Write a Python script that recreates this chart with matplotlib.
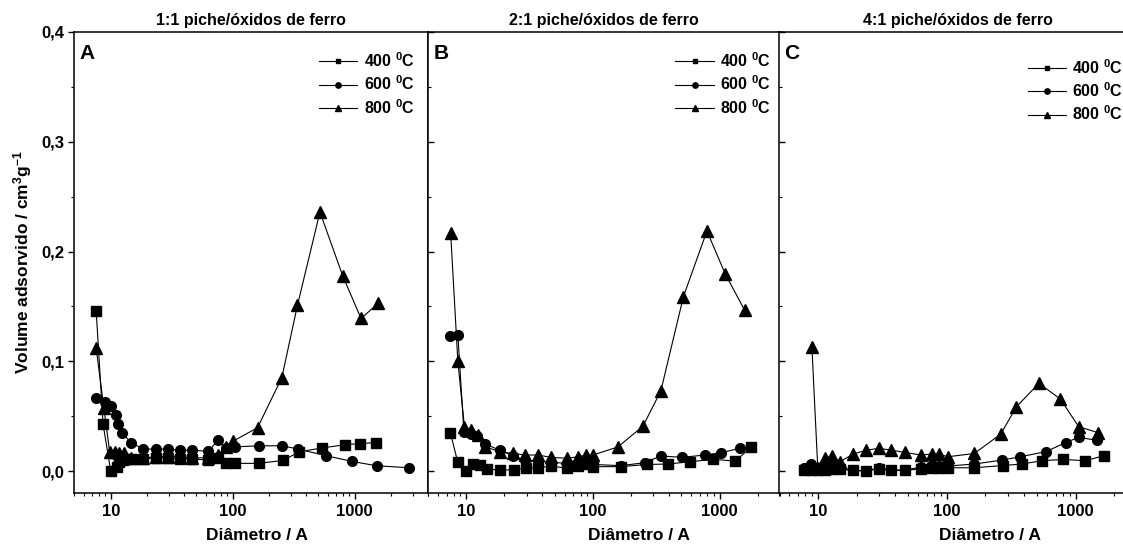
import matplotlib
matplotlib.use("Agg")
import matplotlib.pyplot as plt
from matplotlib.ticker import FuncFormatter, MultipleLocator, LogLocator, NullFormatter

plt.rcParams['font.family'] = ['Liberation Sans', 'DejaVu Sans']
plt.rcParams['font.weight'] = 'bold'
plt.rcParams['mathtext.fontset'] = 'custom'
plt.rcParams['mathtext.rm'] = 'Liberation Sans:bold'
plt.rcParams['mathtext.bf'] = 'Liberation Sans:bold'
plt.rcParams['mathtext.it'] = 'Liberation Sans:bold'
plt.rcParams['mathtext.default'] = 'bf'

# ---------------- data ----------------
titles = ["1:1 piche/óxidos de ferro", "2:1 piche/óxidos de ferro", "4:1 piche/óxidos de ferro"]
panel_letters = ["A", "B", "C"]
series_labels = ["400 $^0$C", "600 $^0$C", "800 $^0$C"]

A_400_x = [7.6, 8.65, 10, 11.3, 11.7, 12.5, 13.5, 15, 18.4, 23.4, 29.5, 37, 46.6, 63, 76, 88, 104, 163, 261, 351, 540, 840, 1107, 1500]
A_400_y = [0.146, 0.043, 0.0, 0.004, 0.008, 0.010, 0.011, 0.011, 0.011, 0.012, 0.012, 0.011, 0.011, 0.010, 0.012, 0.007, 0.007, 0.007, 0.0097, 0.0176, 0.021, 0.024, 0.025, 0.026]
A_600_x = [7.6, 8.97, 10.1, 11.0, 11.5, 12.4, 14.6, 18.4, 23.4, 29.5, 37.0, 46.6, 63, 76, 88, 104, 163, 256, 345, 582, 953, 1515, 2810]
A_600_y = [0.067, 0.063, 0.059, 0.051, 0.0425, 0.035, 0.026, 0.020, 0.020, 0.020, 0.019, 0.019, 0.018, 0.028, 0.021, 0.022, 0.023, 0.023, 0.020, 0.014, 0.0088, 0.0048, 0.003]
A_800_x = [7.6, 8.8, 9.8, 10.8, 11.8, 12.8, 14.6, 18.4, 23.4, 29.5, 37, 46.6, 63, 76, 88, 100, 160, 253, 340, 520, 798, 1130, 1567]
A_800_y = [0.112, 0.057, 0.0176, 0.017, 0.016, 0.016, 0.012, 0.012, 0.013, 0.013, 0.013, 0.012, 0.012, 0.015, 0.022, 0.027, 0.0395, 0.085, 0.151, 0.236, 0.178, 0.139, 0.153]

B_400_x = [7.5, 8.6, 10, 11.3, 12.8, 14.6, 18.6, 23.7, 29.8, 37, 47, 62.9, 76, 89, 101, 166, 268, 391, 588, 889, 1330, 1780]
B_400_y = [0.035, 0.0079, 0.0, 0.006, 0.0055, 0.0015, 0.001, 0.001, 0.003, 0.003, 0.0046, 0.0024, 0.0046, 0.006, 0.004, 0.004, 0.006, 0.0064, 0.0085, 0.0107, 0.0091, 0.0216]
B_600_x = [7.5, 8.6, 9.6, 11, 12.2, 14.2, 18.4, 23.4, 29.3, 37, 46.5, 62.9, 76, 89, 100, 166, 256, 344, 508, 764, 1030, 1440]
B_600_y = [0.123, 0.124, 0.036, 0.034, 0.032, 0.0246, 0.019, 0.014, 0.010, 0.009, 0.008, 0.007, 0.007, 0.007, 0.006, 0.0049, 0.0076, 0.0137, 0.0125, 0.0146, 0.0167, 0.0207]
B_800_x = [7.55, 8.6, 9.7, 10.95, 12.4, 14.2, 18.4, 23.4, 29.3, 37, 46.5, 62.9, 76, 89, 100, 158, 249, 344, 519, 795, 1110, 1575]
B_800_y = [0.2166, 0.100, 0.040, 0.037, 0.033, 0.022, 0.0176, 0.016, 0.0146, 0.0146, 0.0125, 0.0116, 0.013, 0.0146, 0.0146, 0.022, 0.041, 0.073, 0.159, 0.2187, 0.1795, 0.1467]

C_400_x = [7.8, 8.9, 10, 11.3, 12.9, 14.9, 18.8, 23.8, 29.7, 37.2, 47.2, 63.1, 77.6, 87.4, 101.6, 164, 272, 384, 548, 806, 1190, 1670]
C_400_y = [0.001, 0.001, 0.001, 0.001, 0.0015, 0.0015, 0.0005, 0.0, 0.002, 0.0005, 0.0005, 0.002, 0.003, 0.003, 0.003, 0.003, 0.005, 0.0064, 0.0094, 0.0106, 0.0094, 0.014]
C_600_x = [7.8, 8.9, 10, 11.3, 12.9, 14.9, 18.8, 23.8, 29.7, 37.2, 47.2, 63.1, 77.6, 87.4, 101.6, 164, 269, 372, 588, 842, 1058, 1468]
C_600_y = [0.0025, 0.006, 0.001, 0.003, 0.004, 0.003, 0.001, 0.0, 0.003, 0.001, 0.001, 0.0035, 0.0055, 0.005, 0.0045, 0.0064, 0.010, 0.013, 0.0176, 0.026, 0.0307, 0.028]
C_800_x = [9.0, 10, 11.3, 12.9, 14.9, 18.8, 23.8, 29.7, 37.2, 47.2, 63.1, 77.6, 87.4, 101.6, 164, 263, 348, 520, 763, 1058, 1495]
C_800_y = [0.113, 0.0025, 0.0116, 0.0137, 0.0085, 0.0155, 0.019, 0.0207, 0.019, 0.017, 0.0146, 0.0155, 0.0155, 0.013, 0.016, 0.0337, 0.0586, 0.0799, 0.0656, 0.0404, 0.035]

panels = [
    [(A_400_x, A_400_y), (A_600_x, A_600_y), (A_800_x, A_800_y)],
    [(B_400_x, B_400_y), (B_600_x, B_600_y), (B_800_x, B_800_y)],
    [(C_400_x, C_400_y), (C_600_x, C_600_y), (C_800_x, C_800_y)],
]
xlims = [(5, 4000), (5, 3000), (5, 3000)]

# ---------------- layout ----------------
W, H = 1123, 548
fig = plt.figure(figsize=(W / 100, H / 100), dpi=100)
bottom = (H - 493) / H
height = (493 - 32) / H
rects = [
    (74 / W, bottom, (428 - 74) / W, height),
    (428 / W, bottom, (780 - 428) / W, height),
    (779 / W, bottom, 358 / W, height),
]
markers = ['s', 'o', '^']
msizes = [6.5, 7, 8]
legend_anchor = [(0.962, 0.959), (0.975, 0.959), (0.962, 0.944)]
xlabel_x = [257, 639, 990]

for i in range(3):
    ax = fig.add_axes(rects[i])
    for j, (xs, ys) in enumerate(panels[i]):
        ax.plot(xs, ys, color='black', lw=0.8, marker=markers[j], ms=msizes[j],
                mfc='black', mec='black', label=series_labels[j])
    ax.set_xscale('log')
    ax.set_xlim(*xlims[i])
    ax.set_ylim(-0.02, 0.4)
    ax.yaxis.set_major_locator(MultipleLocator(0.1))
    ax.yaxis.set_minor_locator(MultipleLocator(0.05))
    ax.xaxis.set_major_locator(LogLocator(base=10, numticks=10))
    ax.xaxis.set_minor_locator(LogLocator(base=10, subs=range(2, 10), numticks=20))
    ax.xaxis.set_minor_formatter(NullFormatter())
    ax.xaxis.set_major_formatter(FuncFormatter(lambda v, p: f"{int(round(v))}"))
    for sp in ax.spines.values():
        sp.set_linewidth(1.1)
    ax.tick_params(axis='x', which='major', direction='out', length=4, width=1, labelsize=12, top=False, pad=4)
    ax.tick_params(axis='x', which='minor', direction='out', length=2.5, width=0.8, top=False)
    if i == 0:
        ax.yaxis.set_major_formatter(FuncFormatter(lambda v, p: f"{v:.1f}".replace('.', ',')))
        ax.tick_params(axis='y', which='major', direction='out', length=4, width=1, labelsize=12, pad=3)
        ax.tick_params(axis='y', which='minor', direction='out', length=2.5, width=0.8)
        ax.set_ylabel("Volume adsorvido / cm$^3$g$^{-1}$", fontsize=12.5, fontweight='bold', labelpad=5)
    else:
        ax.tick_params(axis='y', which='both', direction='in', labelleft=False)
        ax.tick_params(axis='y', which='major', length=4, width=1)
        ax.tick_params(axis='y', which='minor', length=2.5, width=0.8)
    ax.set_title(titles[i], fontsize=11.5, fontweight='bold', pad=5)
    ax.text(0.015, 0.975, panel_letters[i], transform=ax.transAxes, fontsize=15,
            fontweight='bold', ha='left', va='top')
    ax.legend(loc='upper right', bbox_to_anchor=legend_anchor[i], frameon=False,
              fontsize=11.5, handlelength=2.4, handletextpad=0.4, labelspacing=0.3,
              markerscale=0.55, borderaxespad=0, borderpad=0)
    fig.text(xlabel_x[i] / W, (H - 535) / H, "Diâmetro / A", ha='center', va='center',
             fontsize=12.5, fontweight='bold')

fig.savefig("out.png", dpi=100)
